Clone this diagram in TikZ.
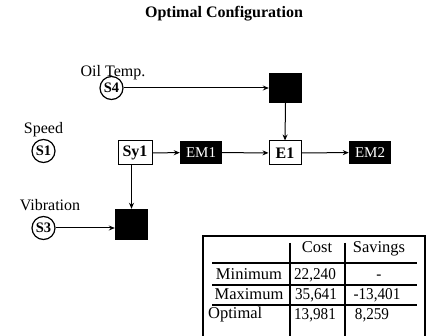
\documentclass[tikz,border=0pt]{standalone}
\usepackage{fontspec}
\setmainfont{Liberation Serif}
\usetikzlibrary{arrows.meta}
\begin{document}
\begin{tikzpicture}[x=1pt,y=-1pt,
  conn/.style={line width=1pt,-{Stealth[length=6pt,width=5pt]}},
  plain/.style={line width=1pt},
  sensor/.style={draw,circle,line width=1.2pt,minimum size=23pt,inner sep=0pt,font=\fontsize{14.5}{16}\selectfont\bfseries},
  wbox/.style={draw,line width=1pt,fill=white,inner sep=0pt,font=\fontsize{16}{18}\selectfont\bfseries},
  bbox/.style={fill=black,inner sep=0pt,text=white,font=\fontsize{15}{17}\selectfont},
  lbl/.style={anchor=base,inner sep=0pt,font=\fontsize{16}{18}\selectfont},
  tbl/.style={anchor=base,inner sep=0pt,font=\fontsize{16.5}{18}\selectfont},
  num/.style={tbl,xscale=0.92},
  tline/.style={line width=1.1pt}]
\useasboundingbox (0,0) rectangle (431,336);
% title
\node[lbl,font=\fontsize{16}{18}\selectfont\bfseries] (title) at (224,18) {Optimal Configuration};
% labels
\node[lbl] (oillbl) at (113,77) {Oil Temp.};
\node[lbl] (speedlbl) at (43.5,134) {Speed};
\node[lbl] (viblbl) at (50,211) {Vibration};
% sensors
\node[sensor] (S4) at (111.5,88) {S4};
\node[sensor] (S1) at (43.5,151) {S1};
\node[sensor] (S3) at (43.5,228) {S3};
% boxes
\node[bbox,minimum width=33pt,minimum height=30pt] (B1) at (285.5,88) {};
\node[bbox,minimum width=33pt,minimum height=31pt] (B2) at (131.5,224.5) {};
\node[wbox,minimum width=34pt,minimum height=24pt] (Sy1) at (135,153) {Sy1};
\node[bbox,minimum width=42pt,minimum height=23pt] (EM1) at (201,152.5) {EM1};
\node[wbox,minimum width=32pt,minimum height=24pt] (E1) at (285,153) {E1};
\node[bbox,minimum width=42pt,minimum height=23pt] (EM2) at (370,152.5) {EM2};
% connectors
\draw[conn] (S4) -- (B1.west |- S4);
\draw[conn] (B1.south) -- (E1.north);
\draw[conn] (Sy1) -- (EM1);
\draw[conn] (EM1) -- (E1);
\draw[conn] (E1) -- (EM2);
\draw[conn] (B2.north |- Sy1.south) -- (B2.north);
\draw[conn] (S3) -- (B2.west |- S3);
% table
\coordinate (tl) at (203,236);
\coordinate (br) at (425,345);
\draw[tline] (tl) rectangle (br);
\draw[tline] (212,263) -- (417,263);
\draw[tline] (212,285) -- (417,285);
\draw[tline] (212,305) -- (417,305);
\draw[tline] (290,243) -- (290,340);
\draw[tline] (345,243) -- (345,340);
\node[tbl] (hcost) at (317,253) {Cost};
\node[tbl] (hsav) at (379,253) {Savings};
\node[tbl] (rmin) at (249,280) {Minimum};
\node[tbl] (rmax) at (249,300) {Maximum};
\node[tbl,anchor=base west] (ropt) at (208,319) {Optimal};
\node[num] (c1) at (315,280) {22,240};
\node[num] (c2) at (316,300) {35,641};
\node[num] (c3) at (315,320) {13,981};
\node[num] (s1) at (379,280) {-};
\node[num] (s2) at (377,300) {-13,401};
\node[num] (s3) at (372,320) {8,259};
\end{tikzpicture}
\end{document}
